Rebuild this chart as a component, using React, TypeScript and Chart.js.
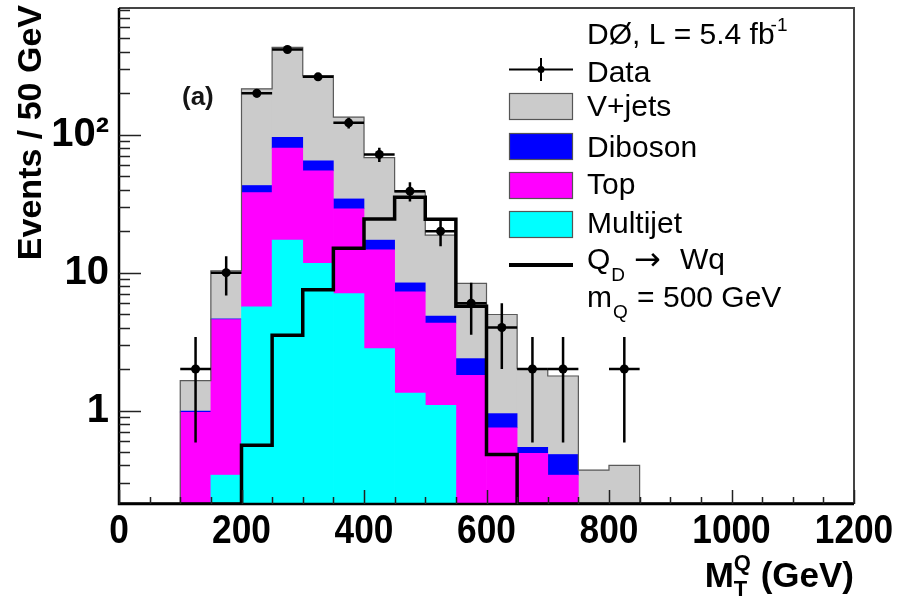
import React, { useEffect, useRef } from "react";
import { Chart, registerables } from "chart.js";

Chart.register(...registerables);

// ---- data (50 GeV bins, lower edges 0 ... 1150) ----
const binLowEdges = [0, 50, 100, 150, 200, 250, 300, 350, 400, 450, 500, 550, 600, 650, 700, 750, 800, 850, 900, 950, 1000, 1050, 1100, 1150];
const BIN_WIDTH = 50;
const multijet = [0, 0, 0, 0.34, 5.64, 17.2, 11.7, 7.05, 2.81, 1.34, 1.09, 0, 0, 0, 0, 0, 0, 0, 0, 0, 0, 0, 0, 0];
const topQuark = [0, 0, 0.97, 4.23, 32.4, 62.8, 43.0, 22.0, 11.8, 5.91, 3.21, 1.8, 0.75, 0.49, 0.34, 0, 0, 0, 0, 0, 0, 0, 0, 0];
const diboson = [0, 0, 0.02, 0.05, 4.8, 15.6, 10.0, 5.2, 2.6, 1.18, 0.55, 0.58, 0.2, 0.05, 0.14, 0, 0, 0, 0, 0, 0, 0, 0, 0];
const vjets = [0, 0, 0.66, 5.7, 172, 335, 204, 100, 51, 30, 13.85, 5.97, 4.02, 1.47, 1.3, 0.37, 0.4, 0, 0, 0, 0, 0, 0, 0];
const signalQD = [0, 0, 0, 0, 0.56, 3.52, 7.5, 15.0, 24.5, 35.2, 24.4, 5.7, 0.48, 0, 0, 0, 0, 0, 0, 0, 0, 0, 0, 0];
const dataCenters = [125, 175, 225, 275, 325, 375, 425, 475, 525, 575, 625, 675, 725, 825];
const dataCounts = [2, 10, 200, 415, 263, 122, 72, 39, 20, 6, 4, 2, 2, 2];
const xTickValues = [0, 200, 400, 600, 800, 1000, 1200];
const xTickLabels = ["0", "200", "400", "600", "800", "1000", "1200"];
const yTickValues = [1, 10, 100];
const yTickLabels = ["1", "10", "10\u00B2"];
const X_MIN = 0;
const X_MAX = 1200;
const Y_MIN = 0.21;
const Y_MAX = 830;

const SANS = "'Liberation Sans', Arial, Helvetica, sans-serif";

const COLORS = {
  multijet: "#00ffff",
  top: "#ff00ff",
  diboson: "#0000ff",
  vjets: "#cbcbcb",
};

const decorPlugin = {
  id: "d0decor",
  afterDatasetsDraw(chart: any) {
    const ctx = chart.ctx as CanvasRenderingContext2D;
    const xs = chart.scales.x;
    const ys = chart.scales.y;
    const { left, right, top, bottom } = chart.chartArea;
    ctx.save();
    // error bars on data
    ctx.strokeStyle = "#000";
    ctx.lineWidth = 2.5;
    dataCenters.forEach((c, i) => {
      const n = dataCounts[i];
      const e = Math.sqrt(n);
      const px = xs.getPixelForValue(c);
      const py = ys.getPixelForValue(n);
      const x0 = xs.getPixelForValue(c - BIN_WIDTH / 2);
      const x1 = xs.getPixelForValue(c + BIN_WIDTH / 2);
      const yHi = ys.getPixelForValue(n + e);
      const yLo = ys.getPixelForValue(Math.max(n - e, Y_MIN));
      ctx.beginPath();
      ctx.moveTo(x0, py);
      ctx.lineTo(x1, py);
      ctx.moveTo(px, yHi);
      ctx.lineTo(px, yLo);
      ctx.stroke();
    });
    // frame
    ctx.strokeStyle = "#444";
    ctx.lineWidth = 2;
    ctx.beginPath();
    ctx.moveTo(left, top);
    ctx.lineTo(right, top);
    ctx.lineTo(right, bottom);
    ctx.stroke();
    ctx.strokeStyle = "#000";
    ctx.lineWidth = 2.5;
    ctx.beginPath();
    ctx.moveTo(left, top);
    ctx.lineTo(left, bottom);
    ctx.lineTo(right, bottom);
    ctx.stroke();
    // y ticks (inside)
    ctx.lineWidth = 1.5;
    ctx.strokeStyle = "#222";
    for (let d = -1; d <= 2; d++) {
      for (let m = 1; m <= 9; m++) {
        const v = m * Math.pow(10, d);
        if (v < Y_MIN || v > Y_MAX) continue;
        const py = Math.round(ys.getPixelForValue(v)) + 0.5;
        const len = m === 1 ? 22 : 11;
        ctx.beginPath();
        ctx.moveTo(left, py);
        ctx.lineTo(left + len, py);
        ctx.stroke();
      }
    }
    // x ticks (inside)
    for (let v = X_MIN; v <= X_MAX; v += BIN_WIDTH) {
      const px = Math.round(xs.getPixelForValue(v)) + 0.5;
      const len = v % 200 === 0 ? 14 : 7;
      ctx.beginPath();
      ctx.moveTo(px, bottom);
      ctx.lineTo(px, bottom - len);
      ctx.stroke();
    }
    ctx.restore();
  },
  afterDraw(chart: any) {
    const ctx = chart.ctx as CanvasRenderingContext2D;
    const xs = chart.scales.x;
    ctx.save();
    ctx.textBaseline = "alphabetic";
    ctx.textAlign = "left";
    ctx.fillStyle = "#000";

    // x tick labels (slightly condensed bold)
    ctx.font = `bold 41px ${SANS}`;
    ctx.textAlign = "center";
    xTickValues.forEach((v, i) => {
      const px = xs.getPixelForValue(v);
      ctx.save();
      ctx.translate(px, 543);
      ctx.scale(0.86, 1);
      ctx.fillText(xTickLabels[i], 0, 0);
      ctx.restore();
    });
    ctx.textAlign = "left";

    // panel label
    ctx.font = `bold 26px ${SANS}`;
    ctx.fillStyle = "#151515";
    ctx.fillText("(a)", 182, 105);
    ctx.fillStyle = "#000";

    // legend
    const LX0 = 509;
    const LX1 = 573;
    const TX = 587;
    const big = `30px ${SANS}`;
    const small = `19px ${SANS}`;

    ctx.font = big;
    ctx.fillText("D\u00D8, L = 5.4 fb", TX, 44);
    const wh = ctx.measureText("D\u00D8, L = 5.4 fb").width;
    ctx.font = small;
    ctx.fillText("-1", TX + wh - 4, 31);

    // Data marker
    ctx.strokeStyle = "#000";
    ctx.lineWidth = 2;
    ctx.beginPath();
    ctx.moveTo(LX0, 69.5);
    ctx.lineTo(LX1, 69.5);
    ctx.moveTo((LX0 + LX1) / 2, 58);
    ctx.lineTo((LX0 + LX1) / 2, 81);
    ctx.stroke();
    ctx.beginPath();
    ctx.arc((LX0 + LX1) / 2, 69.5, 3.5, 0, Math.PI * 2);
    ctx.fill();
    ctx.font = big;
    ctx.fillText("Data", TX, 82);

    const boxes: [string, string, number, number][] = [
      ["V+jets", COLORS.vjets, 93, 116],
      ["Diboson", COLORS.diboson, 133, 157],
      ["Top", COLORS.top, 172, 194],
      ["Multijet", COLORS.multijet, 211, 233],
    ];
    boxes.forEach(([label, color, by, ty]) => {
      ctx.fillStyle = color;
      ctx.fillRect(LX0, by, LX1 - LX0, 27);
      ctx.strokeStyle = "#555";
      ctx.lineWidth = 1.2;
      ctx.strokeRect(LX0 + 0.5, by + 0.5, LX1 - LX0 - 1, 26);
      ctx.fillStyle = "#000";
      ctx.font = big;
      ctx.fillText(label, TX, ty);
    });

    // signal legend line
    ctx.strokeStyle = "#000";
    ctx.lineWidth = 4;
    ctx.beginPath();
    ctx.moveTo(LX0, 265);
    ctx.lineTo(LX1, 265);
    ctx.stroke();
    ctx.font = big;
    ctx.fillText("Q", TX, 269);
    const wQ = ctx.measureText("Q").width;
    ctx.font = small;
    ctx.fillText("D", TX + wQ + 1, 281);
    ctx.font = `32px 'DejaVu Sans', ${SANS}`;
    ctx.fillText("\u2192", 634, 270);
    ctx.font = big;
    ctx.fillText("Wq", 680, 269);

    ctx.fillText("m", TX, 307);
    const wm = ctx.measureText("m").width;
    ctx.font = small;
    ctx.fillText("Q", TX + wm + 1, 318);
    const wq2 = ctx.measureText("Q").width;
    ctx.font = big;
    ctx.fillText(" = 500 GeV", TX + wm + wq2 + 2, 307);

    // x axis title
    const xr = chart.chartArea.right;
    const titleFont = `bold 35px ${SANS}`;
    const subFont = `bold 22px ${SANS}`;
    ctx.font = titleFont;
    const wM = ctx.measureText("M").width;
    const wRest = ctx.measureText(" (GeV)").width;
    ctx.font = subFont;
    const wSub = Math.max(ctx.measureText("Q").width, ctx.measureText("T").width);
    const start = xr - (wM + wSub + wRest);
    const base = 587;
    ctx.font = titleFont;
    ctx.fillText("M", start, base);
    ctx.font = subFont;
    ctx.fillText("Q", start + wM, base - 17);
    ctx.fillText("T", start + wM, base + 9);
    ctx.font = titleFont;
    ctx.fillText(" (GeV)", start + wM + wSub, base);

    // y axis title
    ctx.translate(32, 5);
    ctx.rotate(-Math.PI / 2);
    ctx.textAlign = "right";
    ctx.textBaseline = "middle";
    ctx.font = `bold 34px ${SANS}`;
    ctx.fillText("Events / 50 GeV", 0, 0);
    ctx.restore();
  },
};

function histPoints(vals: number[]) {
  const pts: { x: number; y: number }[] = [];
  vals.forEach((v, i) => {
    const y = v > 0 ? v : Y_MIN;
    pts.push({ x: binLowEdges[i], y });
    pts.push({ x: binLowEdges[i] + BIN_WIDTH, y });
  });
  return pts;
}

function barPoints(vals: number[]) {
  return vals.map((v, i) => ({ x: binLowEdges[i] + BIN_WIDTH / 2, y: v > 0 ? v : null }));
}

export default function App() {
  const ref = useRef<HTMLCanvasElement | null>(null);

  useEffect(() => {
    const canvas = ref.current;
    if (!canvas) return;
    const totals = binLowEdges.map((_, i) => multijet[i] + topQuark[i] + diboson[i] + vjets[i]);
    const barCommon = {
      stack: "bkg",
      xAxisID: "x",
      yAxisID: "y",
      order: 3,
      grouped: false,
      barPercentage: 1,
      categoryPercentage: 1,
      borderWidth: 0,
    };
    const chart = new Chart(canvas, {
      type: "bar",
      data: {
        datasets: [
          { ...barCommon, label: "Multijet", data: barPoints(multijet), backgroundColor: COLORS.multijet },
          { ...barCommon, label: "Top", data: barPoints(topQuark), backgroundColor: COLORS.top },
          { ...barCommon, label: "Diboson", data: barPoints(diboson), backgroundColor: COLORS.diboson },
          { ...barCommon, label: "V+jets", data: barPoints(vjets), backgroundColor: COLORS.vjets },
          {
            type: "line",
            label: "Total",
            data: histPoints(totals),
            xAxisID: "x",
            yAxisID: "y",
            borderColor: "#5a5a5a",
            borderWidth: 1.2,
            pointRadius: 0,
            tension: 0,
            fill: false,
            order: 2,
          },
          {
            type: "line",
            label: "QD -> Wq",
            data: histPoints(signalQD),
            xAxisID: "x",
            yAxisID: "y",
            borderColor: "#000",
            borderWidth: 3.5,
            pointRadius: 0,
            tension: 0,
            fill: false,
            order: 1,
          },
          {
            type: "scatter",
            label: "Data",
            data: dataCenters.map((c, i) => ({ x: c, y: dataCounts[i] })),
            xAxisID: "x",
            yAxisID: "y",
            pointRadius: 4.5,
            backgroundColor: "#000",
            borderColor: "#000",
            borderWidth: 0,
            order: 0,
          },
        ] as any,
      },
      options: {
        responsive: false,
        animation: false,
        devicePixelRatio: 1,
        events: [],
        layout: { padding: { left: 0, right: 45, top: 8, bottom: 0 } },
        plugins: { legend: { display: false }, tooltip: { enabled: false } },
        scales: {
          x: {
            type: "linear",
            position: "bottom",
            min: X_MIN,
            max: X_MAX,
            offset: false,
            grid: { display: false, drawTicks: false },
            border: { display: false },
            ticks: { display: false },
            afterBuildTicks: (s: any) => {
              s.ticks = xTickValues.map((v) => ({ value: v }));
            },
            afterFit: (s: any) => {
              s.height = 97;
              s.paddingLeft = 0;
              s.paddingRight = 0;
            },
          },
          y: {
            type: "logarithmic",
            position: "left",
            min: Y_MIN,
            max: Y_MAX,
            grid: { display: false, drawTicks: false },
            border: { display: false },
            ticks: {
              autoSkip: false,
              padding: 10,
              color: "#000",
              font: { family: SANS, weight: "bold", size: 40 },
              callback: (v: any) => {
                const i = yTickValues.indexOf(Number(v));
                return i >= 0 ? yTickLabels[i] : "";
              },
            },
            afterBuildTicks: (s: any) => {
              s.ticks = yTickValues.map((v) => ({ value: v }));
            },
            afterFit: (s: any) => {
              s.width = 119;
              s.paddingTop = 0;
              s.paddingBottom = 0;
            },
          },
        },
      } as any,
      plugins: [decorPlugin],
    });
    return () => chart.destroy();
  }, []);

  return (
    <div style={{ position: "fixed", left: 0, top: 0, width: 899, height: 601, background: "#fff" }}>
      <canvas ref={ref} width={899} height={601} style={{ display: "block", width: 899, height: 601 }} />
    </div>
  );
}
